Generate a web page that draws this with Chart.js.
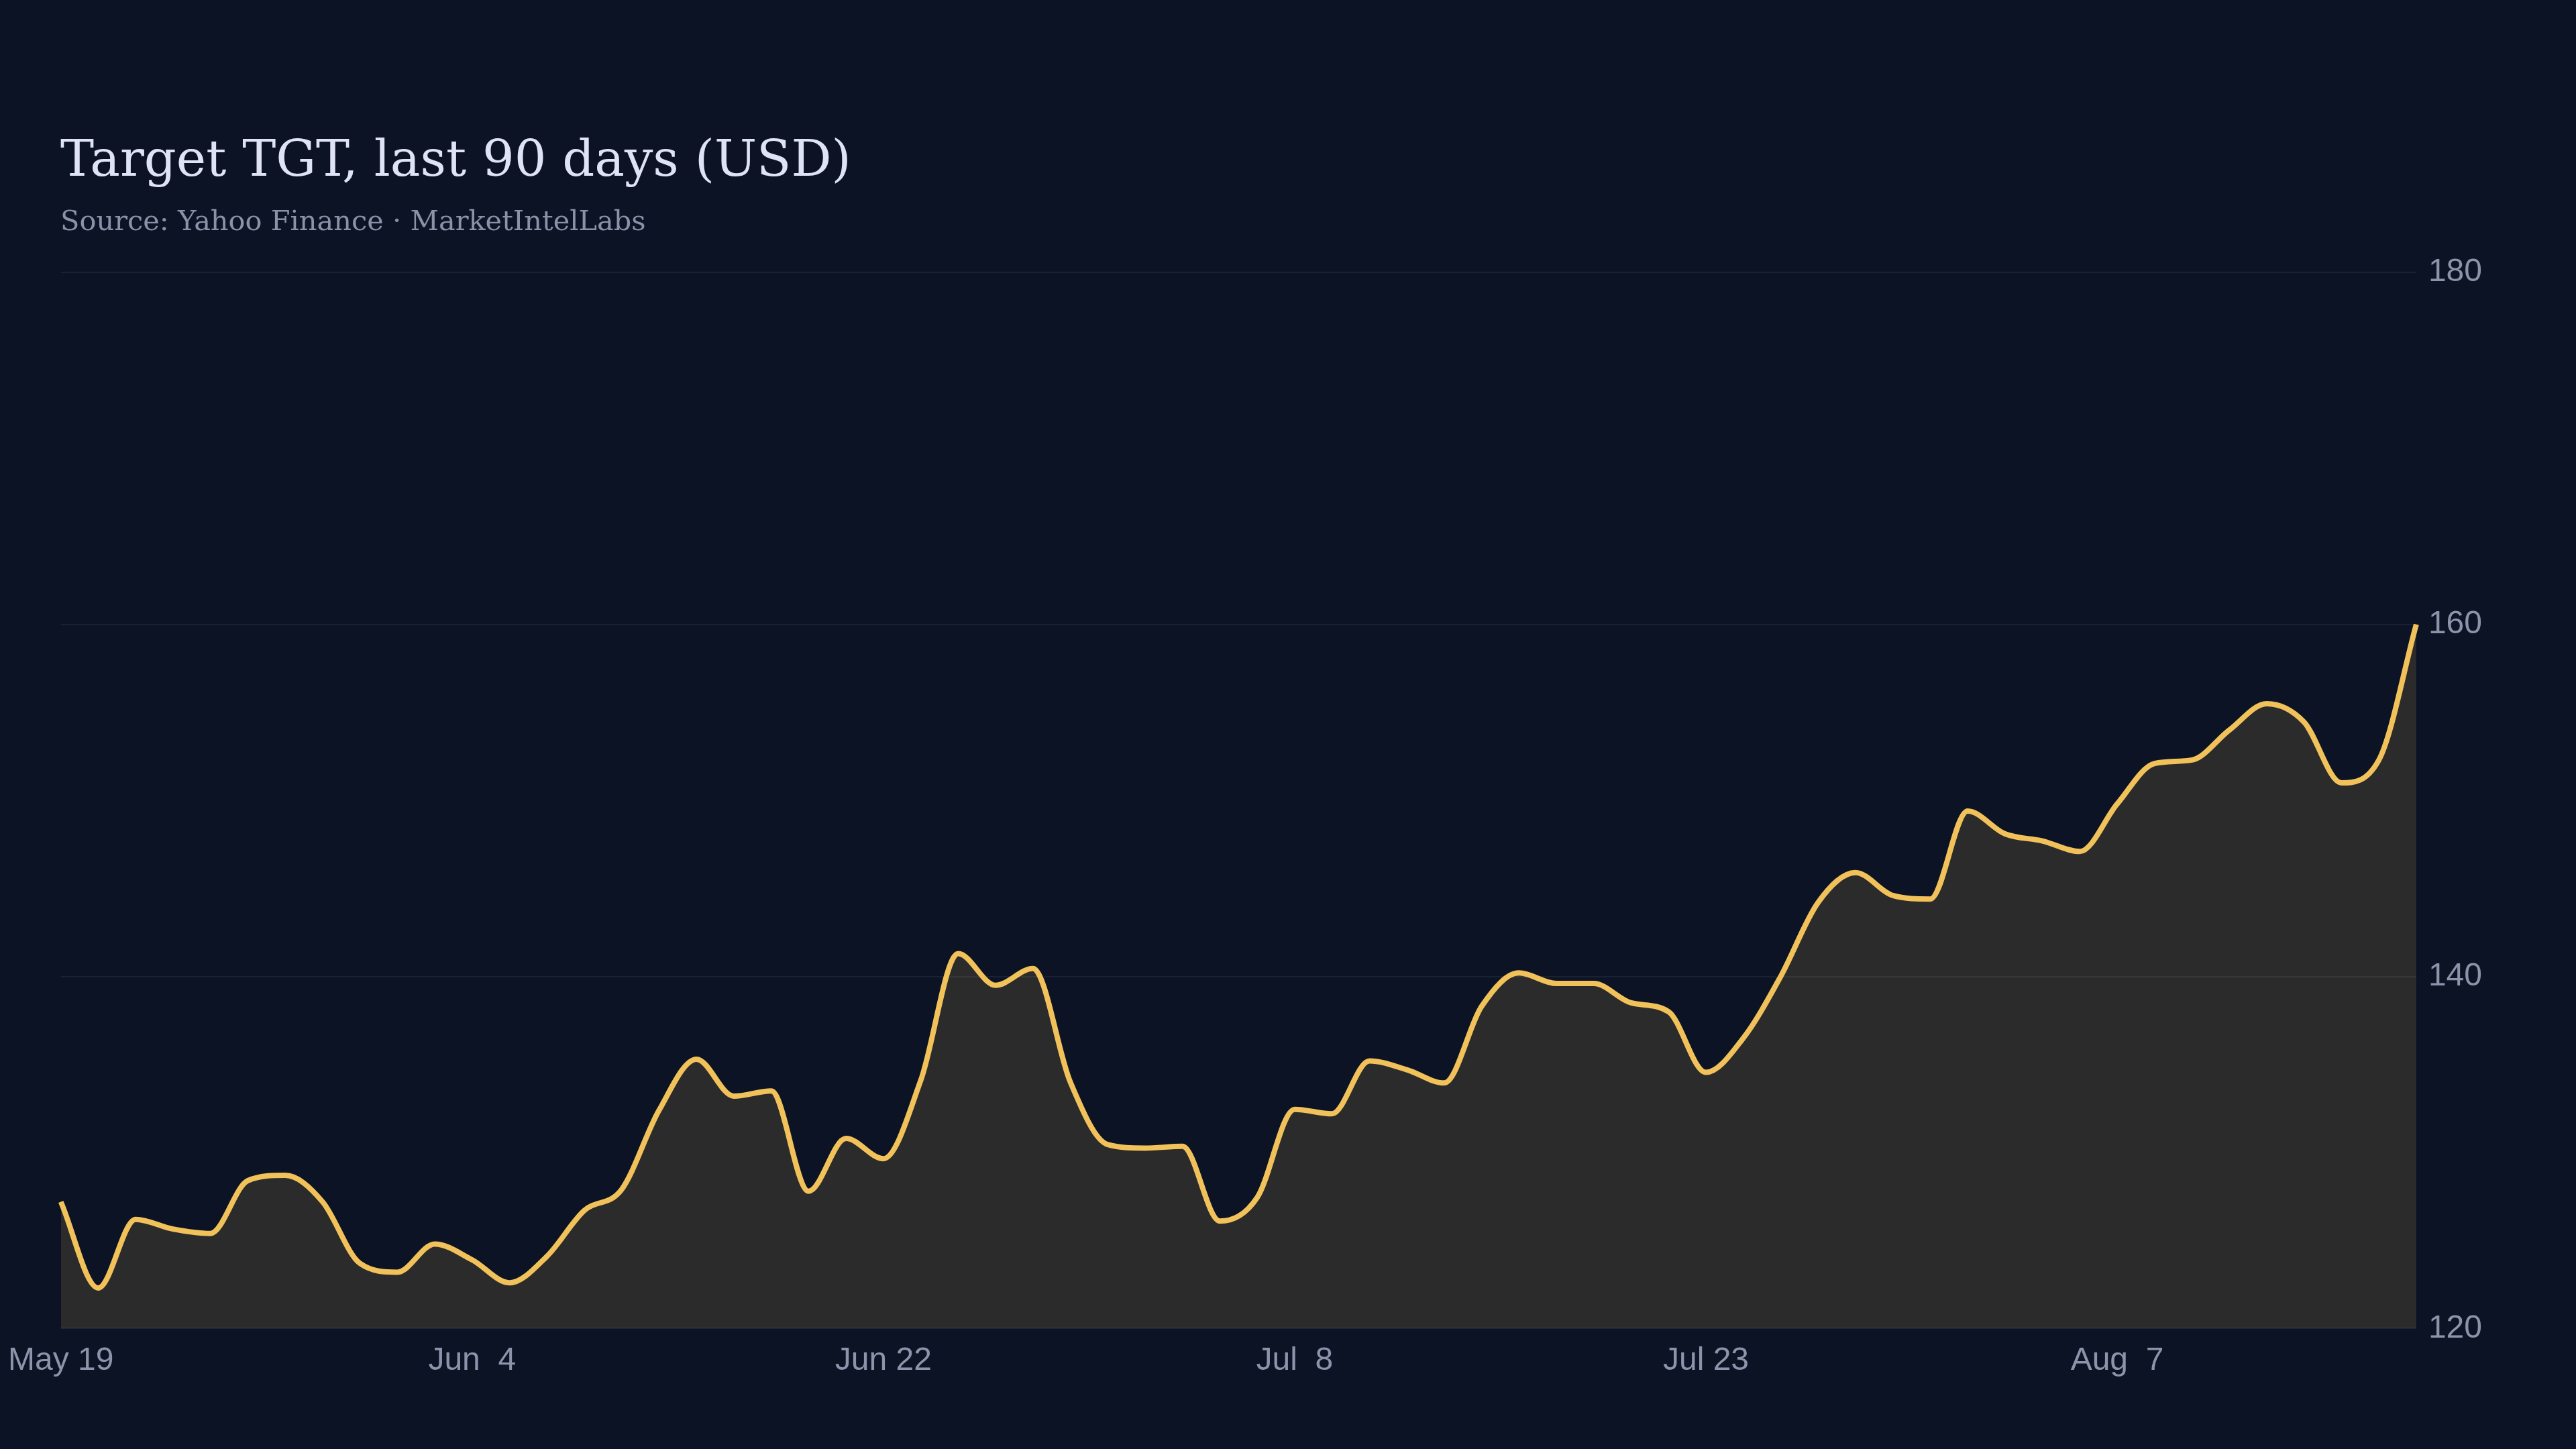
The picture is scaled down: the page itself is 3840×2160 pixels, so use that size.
<!DOCTYPE html>
<html>
<head>
    <meta charset="utf-8"/>
    <title>Target TGT, last 90 days</title>
    <script src="https://cdn.jsdelivr.net/npm/chart.js@4"></script>
    <style>
        html, body {
            margin: 0;
            padding: 0;
            background: #0c1325;
        }
        #wrap {
            position: relative;
            width: 3840px;
            height: 2160px;
            overflow: hidden;
        }
        #title {
            position: absolute;
            left: 90px;
            top: 199px;
            margin: 0;
            font-family: "DejaVu Serif", serif;
            font-weight: normal;
            font-size: 75px;
            line-height: 1;
            color: #dfe4f5;
            white-space: nowrap;
        }
        #subtitle {
            position: absolute;
            left: 90px;
            top: 308px;
            margin: 0;
            font-family: "DejaVu Serif", serif;
            font-size: 41.5px;
            line-height: 1;
            color: #8b91a7;
            white-space: nowrap;
        }
        #priceChart {
            position: absolute;
            left: 0;
            top: 0;
        }
    </style>
</head>
<body>
<div id="wrap">
    <canvas id="priceChart" width="3840" height="2160"></canvas>
    <h1 id="title">Target TGT, last 90 days (USD)</h1>
    <p id="subtitle">Source: Yahoo Finance · MarketIntelLabs</p>
</div>

<script>
    // trading days, May 19 - Aug 19
    const dates = [
        'May 19', 'May 20', 'May 21', 'May 22', 'May 26', 'May 27', 'May 28', 'May 29',
        'Jun  1', 'Jun  2', 'Jun  3', 'Jun  4', 'Jun  5', 'Jun  8', 'Jun  9', 'Jun 10',
        'Jun 11', 'Jun 12', 'Jun 15', 'Jun 16', 'Jun 17', 'Jun 18', 'Jun 22', 'Jun 23',
        'Jun 24', 'Jun 25', 'Jun 26', 'Jun 29', 'Jun 30', 'Jul  1', 'Jul  2', 'Jul  6',
        'Jul  7', 'Jul  8', 'Jul  9', 'Jul 10', 'Jul 13', 'Jul 14', 'Jul 15', 'Jul 16',
        'Jul 17', 'Jul 20', 'Jul 21', 'Jul 22', 'Jul 23', 'Jul 24', 'Jul 27', 'Jul 28',
        'Jul 29', 'Jul 30', 'Jul 31', 'Aug  3', 'Aug  4', 'Aug  5', 'Aug  6', 'Aug  7',
        'Aug 10', 'Aug 11', 'Aug 12', 'Aug 13', 'Aug 14', 'Aug 17', 'Aug 18', 'Aug 19'
    ];

    // closing price, USD
    const closes = [
        127.2, 122.3, 126.2, 125.65, 125.4, 128.4, 128.7, 127.2,
        123.7, 123.2, 124.8, 123.9, 122.6, 124.1, 126.7, 127.9,
        132.4, 135.3, 133.2, 133.5, 127.8, 130.8, 129.65, 134.1,
        141.3, 139.5, 140.45, 134.0, 130.45, 130.25, 130.35, 126.1,
        127.45, 132.45, 132.2, 135.2, 134.7, 133.95, 138.3, 140.2,
        139.6, 139.6, 138.5, 138.0, 134.55, 136.5, 140.0, 144.2,
        145.9, 144.6, 144.4, 149.4, 148.1, 147.7, 147.1, 149.8,
        152.1, 152.3, 154.0, 155.5, 154.45, 151.0, 152.3, 160.0
    ];

    const yTicks = [120, 140, 160, 180];
    const labelEvery = 11;

    const tickColor = '#8c93ab';
    const tickFont = { family: '"Liberation Sans", Arial, sans-serif', size: 48 };

    const ctx = document.getElementById('priceChart').getContext('2d');
    new Chart(ctx, {
        type: 'line',
        data: {
            labels: dates,
            datasets: [{
                label: 'TGT',
                data: closes,
                borderColor: '#f2c25a',
                borderWidth: 8,
                backgroundColor: 'rgba(242, 194, 90, 0.14)',
                fill: 'start',
                pointRadius: 0,
                cubicInterpolationMode: 'monotone'
            }]
        },
        options: {
            responsive: false,
            animation: false,
            devicePixelRatio: 1,
            layout: {
                padding: { left: 85, right: 122, top: 406, bottom: 90 }
            },
            plugins: {
                legend: { display: false },
                tooltip: { enabled: false }
            },
            scales: {
                x: {
                    grid: { display: false },
                    border: { display: false },
                    ticks: {
                        autoSkip: false,
                        maxRotation: 0,
                        color: tickColor,
                        font: tickFont,
                        padding: 12,
                        callback: (v, i) => i % labelEvery === 0 ? dates[i] : null
                    }
                },
                y: {
                    position: 'right',
                    min: yTicks[0],
                    max: yTicks[yTicks.length - 1],
                    afterBuildTicks: axis => {
                        axis.ticks = yTicks.map(v => ({ value: v }));
                    },
                    ticks: {
                        color: tickColor,
                        font: tickFont,
                        padding: 18
                    },
                    grid: {
                        color: 'rgba(148, 163, 184, 0.1)',
                        lineWidth: 2,
                        drawTicks: false
                    },
                    border: { display: false }
                }
            }
        }
    });
</script>
</body>
</html>
